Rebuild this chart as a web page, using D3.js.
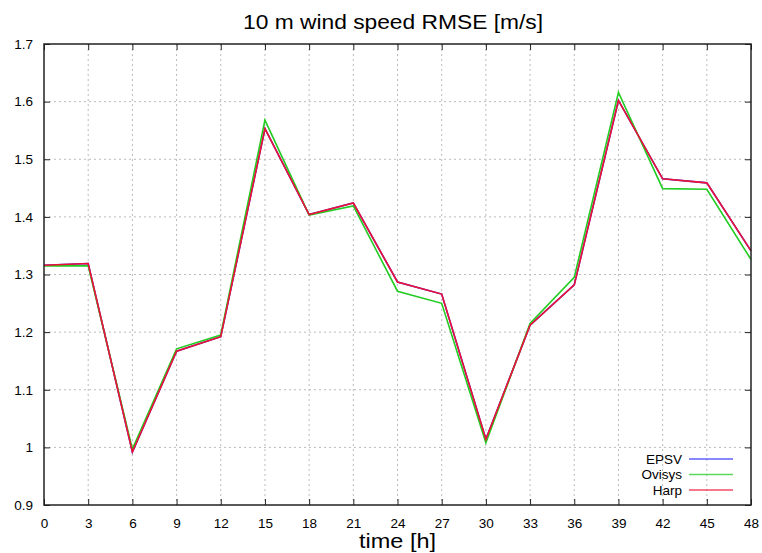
<!DOCTYPE html>
<html><head><meta charset="utf-8">
<script src="https://cdn.jsdelivr.net/npm/d3@7"></script>
<style>body{margin:0;background:#fff}svg{display:block}text{font-family:"Liberation Sans",Arial,sans-serif}</style>
</head><body>
<script>
const hours = [0,3,6,9,12,15,18,21,24,27,30,33,36,39,42,45,48];
const epsv   = [1.316,1.319,0.992,1.167,1.192,1.553,1.404,1.424,1.287,1.266,1.014,1.212,1.282,1.602,1.466,1.459,1.341];
const ovisys = [1.315,1.315,0.997,1.171,1.195,1.568,1.403,1.419,1.271,1.250,1.008,1.215,1.295,1.616,1.449,1.448,1.326];
const harp   = [1.316,1.319,0.992,1.167,1.192,1.553,1.404,1.424,1.287,1.266,1.014,1.212,1.282,1.602,1.466,1.459,1.341];
const yTicks = [0.9,1,1.1,1.2,1.3,1.4,1.5,1.6,1.7];
const xTicks = hours;
const seriesNames = ["EPSV","Ovisys","Harp"];
const seriesColors = ["#2a2aff","#22cc22","#ee1133"];
const seriesData = [epsv, ovisys, harp];

const W=762,H=553;
const L=44,R=751,T=44,B=505;
const svg=d3.select("body").append("svg").attr("width",W).attr("height",H);
const x=d3.scaleLinear().domain([0,48]).range([L,R]);
const y=d3.scaleLinear().domain([0.9,1.7]).range([B,T]);

// grid
const g=svg.append("g");
g.selectAll(".gx").data(xTicks.slice(1,-1)).join("line")
 .attr("x1",d=>x(d)).attr("x2",d=>x(d)).attr("y1",T).attr("y2",B)
 .attr("stroke","#bbb").attr("stroke-width",1).attr("stroke-dasharray","2,3");
g.selectAll(".gy").data(yTicks.slice(1,-1)).join("line")
 .attr("y1",d=>y(d)).attr("y2",d=>y(d)).attr("x1",L).attr("x2",R)
 .attr("stroke","#bbb").attr("stroke-width",1).attr("stroke-dasharray","2,3");

// axes with inward ticks (mirrored)
const ax=(gen,tr)=>svg.append("g").attr("transform",tr).call(gen);
const xb=ax(d3.axisBottom(x).tickValues(xTicks).tickSize(-6).tickPadding(13).tickFormat(d3.format("d")),`translate(0,${B})`);
const xt=ax(d3.axisTop(x).tickValues(xTicks).tickSize(-6).tickFormat(""),`translate(0,${T})`);
const yl=ax(d3.axisLeft(y).tickValues(yTicks).tickSize(-6).tickPadding(11).tickFormat(d=>d3.format("")(+d.toFixed(1))),`translate(${L},0)`);
const yr=ax(d3.axisRight(y).tickValues(yTicks).tickSize(-6).tickFormat(""),`translate(${R},0)`);
[xb,xt,yl,yr].forEach(a=>{a.select(".domain").remove();a.selectAll("line").attr("stroke","#222");a.selectAll("text").attr("font-size",13.5).attr("fill","#000").attr("font-family","Liberation Sans, Arial, sans-serif");});

// lines
const line=d3.line().x((d,i)=>x(hours[i])).y(d=>y(d));
seriesData.forEach((s,k)=>{
  svg.append("path").datum(s).attr("d",line).attr("fill","none")
   .attr("stroke",seriesColors[k]).attr("stroke-width",1.6).attr("stroke-linejoin","miter");
});

// frame
svg.append("rect").attr("x",L).attr("y",T).attr("width",R-L).attr("height",B-T)
 .attr("fill","none").attr("stroke","#222").attr("stroke-width",1.5);

// legend
const lg=svg.append("g");
seriesNames.forEach((n,k)=>{
  const yy=459+k*15.5;
  lg.append("text").attr("x",682).attr("y",yy).attr("dy","0.35em").attr("text-anchor","end").attr("font-size",13.5).text(n);
  lg.append("line").attr("x1",689).attr("x2",733).attr("y1",yy).attr("y2",yy).attr("stroke",seriesColors[k]).attr("stroke-width",1.6).attr("opacity",0.75);
});

// titles
svg.append("text").attr("x",393).attr("y",29).attr("text-anchor","middle").attr("font-size",20)
 .attr("textLength",300).attr("lengthAdjust","spacingAndGlyphs").text("10 m wind speed RMSE [m/s]");
svg.append("text").attr("x",397.5).attr("y",548).attr("text-anchor","middle").attr("font-size",20)
 .attr("textLength",77).attr("lengthAdjust","spacingAndGlyphs").text("time [h]");
</script>
</body></html>
